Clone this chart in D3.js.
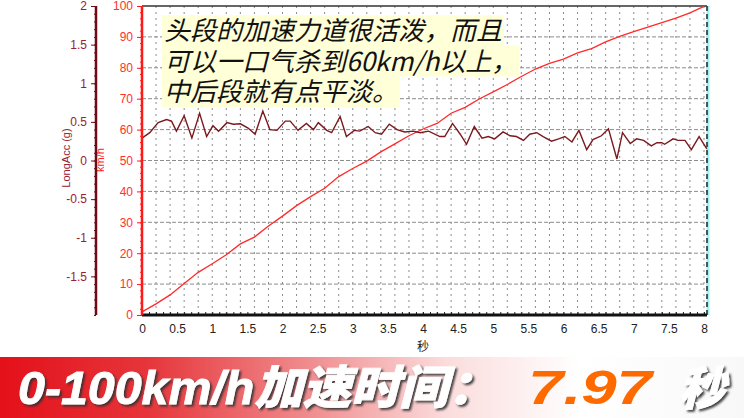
<!DOCTYPE html>
<html><head><meta charset="utf-8">
<script src="https://cdn.jsdelivr.net/npm/d3@7/dist/d3.min.js"></script>
<style>
html,body{margin:0;padding:0;background:#fff;}
svg{display:block;}
</style></head>
<body>
<svg id="chart" width="744" height="418"></svg>
<script>
// ---------- DATA ----------
const speedTime = [0,0.2,0.4,0.6,0.8,1.0,1.2,1.4,1.6,1.8,2.0,2.2,2.4,2.6,2.8,3.0,3.2,3.4,3.6,3.8,4.0,4.2,4.4,4.6,4.8,5.0,5.2,5.4,5.6,5.8,6.0,6.2,6.4,6.6,6.8,7.0,7.2,7.4,7.6,7.8,8.0];
const speedKmh  = [1,3.6,6.5,10.2,13.8,16.6,19.5,23.0,25.2,28.8,32.0,35.4,38.3,41.0,44.8,47.4,49.8,52.8,55.4,58.0,60.2,62.0,65.3,67.2,69.9,72.2,74.6,77.2,79.6,81.4,82.8,84.8,86.2,88.4,90.2,91.7,93.2,94.6,96.1,97.8,99.9];
const accTime = [0.00,0.11,0.23,0.35,0.42,0.49,0.60,0.71,0.82,0.92,1.01,1.09,1.21,1.30,1.40,1.51,1.61,1.72,1.82,1.92,2.04,2.11,2.22,2.34,2.44,2.51,2.63,2.70,2.82,2.91,3.02,3.10,3.22,3.32,3.41,3.52,3.63,3.74,3.86,3.96,4.08,4.24,4.31,4.42,4.53,4.62,4.73,4.84,4.93,5.02,5.14,5.24,5.33,5.43,5.52,5.62,5.71,5.83,5.93,6.02,6.12,6.22,6.33,6.42,6.54,6.64,6.76,6.84,6.95,7.04,7.14,7.25,7.33,7.40,7.44,7.56,7.63,7.73,7.82,7.93,8.04];
const accG = [0.29,0.36,0.49,0.53,0.51,0.38,0.58,0.29,0.61,0.31,0.45,0.38,0.49,0.47,0.475,0.42,0.34,0.64,0.40,0.39,0.51,0.51,0.39,0.48,0.40,0.49,0.39,0.36,0.57,0.31,0.39,0.38,0.44,0.36,0.34,0.47,0.40,0.37,0.38,0.36,0.38,0.31,0.31,0.48,0.34,0.21,0.44,0.29,0.31,0.28,0.37,0.32,0.31,0.26,0.34,0.36,0.31,0.25,0.28,0.31,0.24,0.39,0.14,0.27,0.32,0.41,0.02,0.36,0.22,0.28,0.26,0.19,0.23,0.23,0.21,0.28,0.26,0.26,0.14,0.31,0.15];
const xTicks = [0,0.5,1,1.5,2,2.5,3,3.5,4,4.5,5,5.5,6,6.5,7,7.5,8];
const speedTicks = [0,10,20,30,40,50,60,70,80,90,100];
const accTicks = [-1.5,-1,-0.5,0,0.5,1,1.5,2];
const xTitle = "秒";
const speedTitle = "km/h";
const accTitle = "LongAcc (g)";
const noteLines = ["头段的加速力道很活泼，而且","可以一口气杀到60km/h以上，","中后段就有点平淡。"];
const bannerLabel = "0-100km/h加速时间：";
const bannerValue = "7.97";
const bannerUnit = "秒";

// ---------- CHART ----------
const svg = d3.select("#chart");
const L = 142, R = 707, T = 6, B = 315;
const x = d3.scaleLinear().domain([0, 8]).range([L, 704]);
const yV = d3.scaleLinear().domain([0, 100]).range([B, T]);
const yA = d3.scaleLinear().domain([-2, 2]).range([B, T]);

svg.append("rect").attr("width",744).attr("height",418).attr("fill","#fff");

const defs = svg.append("defs");
const grad = defs.append("linearGradient").attr("id","bannerGrad").attr("x1","0").attr("x2","1").attr("y1","0").attr("y2","0");
[["0%","#e4101a"],["20%","#e6363b"],["42%","#f08e90"],["60%","#fbdcdc"],["78%","#ffffff"],["100%","#f8f8f8"]]
  .forEach(([o,c])=>grad.append("stop").attr("offset",o).attr("stop-color",c));
const shadow = defs.append("filter").attr("id","shadow").attr("x","-10%").attr("y","-20%").attr("width","130%").attr("height","150%");
shadow.append("feDropShadow").attr("dx",2).attr("dy",2).attr("stdDeviation",1.2).attr("flood-color","#333").attr("flood-opacity",0.9);

// grid
const grid = svg.append("g");
grid.selectAll("line.v").data(d3.range(0.2, 8.01, 0.2)).join("line")
  .attr("x1",d=>x(d)).attr("x2",d=>x(d)).attr("y1",T).attr("y2",B)
  .attr("stroke","#8c8c8c").attr("stroke-width",1).attr("stroke-dasharray","2,4");
grid.selectAll("line.h").data(speedTicks.slice(1,-1)).join("line")
  .attr("x1",L).attr("x2",R).attr("y1",d=>yV(d)).attr("y2",d=>yV(d))
  .attr("stroke","#8c8c8c").attr("stroke-width",1).attr("stroke-dasharray","4,2");

// top & right border
svg.append("line").attr("x1",L).attr("x2",R).attr("y1",T).attr("y2",T).attr("stroke","#333").attr("stroke-width",1.5);
svg.append("line").attr("x1",R+1).attr("x2",R+1).attr("y1",T).attr("y2",B).attr("stroke","#9ff0f0").attr("stroke-width",3);
svg.append("line").attr("x1",R).attr("x2",R).attr("y1",T).attr("y2",B).attr("stroke","#222").attr("stroke-width",1.5).attr("stroke-dasharray","5,3");

// note text with yellow highlight (single text element, one tspan per line)
const note = svg.append("g");
const rectG = note.append("g");
const noteText = note.append("text")
  .attr("font-family","'Noto Sans CJK SC', sans-serif").attr("font-size",26).attr("font-style","italic")
  .attr("fill","#111");
noteLines.forEach((t,i)=>{
  const ts = noteText.append("tspan").attr("x",164).attr("y",40+i*30.5).text(t);
  const w = ts.node().getComputedTextLength();
  rectG.append("rect").attr("fill","#ffffd8")
    .attr("x",162).attr("y",40+i*30.5-25).attr("width",w+4).attr("height",31);
});

// lines
svg.append("path").datum(speedTime.map((t,i)=>[t,speedKmh[i]]))
  .attr("fill","none").attr("stroke","#ff2a2a").attr("stroke-width",1.3)
  .attr("d", d3.line().x(d=>x(d[0])).y(d=>yV(d[1])));
svg.append("path").datum(accTime.map((t,i)=>[t,accG[i]]))
  .attr("fill","none").attr("stroke","#7a1a1f").attr("stroke-width",1.4)
  .attr("d", d3.line().x(d=>x(d[0])).y(d=>yA(d[1])));

// X axis
const xMinor = svg.append("g").attr("transform",`translate(0,${B})`)
  .call(d3.axisBottom(x).tickValues(d3.range(0,8.01,0.1)).tickSize(-3).tickFormat(""));
xMinor.select(".domain").remove();
xMinor.selectAll("line").attr("stroke","#222");
const xAx = svg.append("g").attr("transform",`translate(0,${B})`)
  .call(d3.axisBottom(x).tickValues(xTicks).tickSize(0).tickPadding(9).tickFormat(d=>String(d)));
xAx.select(".domain").attr("d",`M${L},0H${R}`).attr("stroke","#111").attr("stroke-width",3);
xAx.selectAll("text").attr("font-family","'Liberation Sans', Arial, sans-serif").attr("font-size",12).attr("fill","#222");
svg.append("text").attr("x",x(4)).attr("y",351).attr("text-anchor","middle")
  .attr("font-family","'Noto Sans CJK SC', sans-serif").attr("font-size",12).attr("fill","#222").text(xTitle);

// speed axis
const vMinor = svg.append("g").attr("transform",`translate(${L},0)`)
  .call(d3.axisLeft(yV).tickValues(d3.range(0,100.1,2)).tickSize(2).tickFormat(""));
vMinor.select(".domain").remove();
vMinor.selectAll("line").attr("stroke","#ff2020");
const vAx = svg.append("g").attr("transform",`translate(${L},0)`)
  .call(d3.axisLeft(yV).tickValues(speedTicks).tickSize(5).tickPadding(4));
vAx.select(".domain").attr("d",`M0,${T}V${B}`).attr("stroke","#ff1a1a").attr("stroke-width",2.5);
vAx.selectAll("line").attr("stroke","#ff1a1a");
vAx.selectAll("text").attr("font-family","'Liberation Sans', Arial, sans-serif").attr("font-size",12).attr("fill","#ff3030");
svg.append("text").attr("transform",`translate(104,160) rotate(-90)`).attr("text-anchor","middle")
  .attr("font-family","'Liberation Sans', Arial, sans-serif").attr("font-size",11).attr("fill","#ff2020").text(speedTitle);

// acc axis
const AX = 96;
const aMinor = svg.append("g").attr("transform",`translate(${AX},0)`)
  .call(d3.axisLeft(yA).tickValues(d3.range(-2,2.001,0.1)).tickSize(2).tickFormat(""));
aMinor.select(".domain").remove();
aMinor.selectAll("line").attr("stroke","#6e0a14");
const aAx = svg.append("g").attr("transform",`translate(${AX},0)`)
  .call(d3.axisLeft(yA).tickValues(accTicks).tickSize(5).tickPadding(4).tickFormat(d=>String(d)));
aAx.select(".domain").attr("d",`M0,${T}V${B}`).attr("stroke","#6e0a14").attr("stroke-width",2.5);
aAx.selectAll("line").attr("stroke","#6e0a14");
aAx.selectAll("text").attr("font-family","'Liberation Sans', Arial, sans-serif").attr("font-size",12).attr("fill","#9a2030");
svg.append("text").attr("transform",`translate(70,158) rotate(-90)`).attr("text-anchor","middle")
  .attr("font-family","'Liberation Sans', Arial, sans-serif").attr("font-size",11).attr("fill","#9a2030").text(accTitle);

// banner
svg.append("rect").attr("x",0).attr("y",357).attr("width",744).attr("height",61).attr("fill","url(#bannerGrad)");
const bfont = "'Liberation Sans', 'Noto Sans CJK SC', Arial, sans-serif";
svg.append("text").attr("x",18).attr("y",404).attr("font-family",bfont).attr("font-weight",900)
  .attr("font-style","italic").attr("font-size",46).attr("fill","#fff").attr("filter","url(#shadow)")
  .attr("stroke","#fff").attr("stroke-width",0.8)
  .attr("textLength",478).attr("lengthAdjust","spacingAndGlyphs").text(bannerLabel);
svg.append("text").attr("x",528).attr("y",404).attr("font-family",bfont).attr("font-weight",900)
  .attr("font-style","italic").attr("font-size",48).attr("fill","#ff6a00")
  .attr("textLength",124).attr("lengthAdjust","spacingAndGlyphs").text(bannerValue);
svg.append("text").attr("x",679).attr("y",405).attr("font-family",bfont).attr("font-weight",900)
  .attr("font-style","italic").attr("font-size",46).attr("fill","#fff").attr("filter","url(#shadow)")
  .attr("stroke","#fff").attr("stroke-width",0.8)
  .text(bannerUnit);
</script>
</body></html>
